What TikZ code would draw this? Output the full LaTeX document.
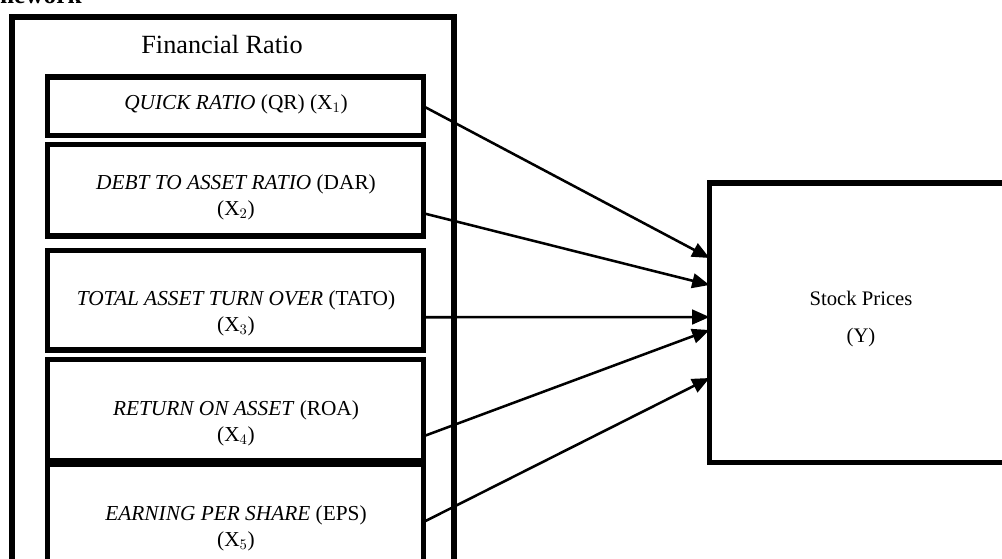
\documentclass[tikz,border=0pt]{standalone}
\usepackage{fontspec}
\setmainfont{Liberation Serif}
\usetikzlibrary{arrows.meta,calc,fit}
\begin{document}
\begin{tikzpicture}[x=0.75pt,y=-0.75pt,
  outerbox/.style={draw,line width=4.6pt,inner sep=0pt,outer sep=0pt,rectangle},
  varbox/.style={draw,line width=3.8pt,inner sep=0pt,outer sep=0pt,rectangle},
  txt/.style={align=center,inner sep=0pt,font=\fontsize{16}{19.5}\selectfont},
  arr/.style={line width=1.9pt,-{Triangle[length=13pt,width=11pt]}}]
\useasboundingbox (0,0) rectangle (1002,558);
% clipped heading
\node[anchor=base east,inner sep=0pt,font=\fontsize{19}{22}\selectfont\bfseries] (head) at (82,3) {Framework};
% outer frame
\node[outerbox,fit={(12,17)(454,640)}] (frame) {};
\node[inner sep=0pt,font=\fontsize{19.7}{23}\selectfont] (title) at (222,45) {Financial Ratio};
% variable boxes
\node[varbox,fit={(47.5,77)(423.5,135.5)}] (qr) {};
\node[varbox,fit={(47.5,144.5)(423.5,236)}] (dar) {};
\node[varbox,fit={(47.5,250.5)(423.5,350)}] (tato) {};
\node[varbox,fit={(47.5,359.5)(423.5,461)}] (roa) {};
\node[varbox,fit={(47.5,464)(423.5,640)}] (eps) {};
\node[txt] (qrt) at (236,104) {\textit{QUICK RATIO} (QR) (X$_1$)};
\node[txt] (dart) at (236,197) {\textit{DEBT TO ASSET RATIO} (DAR)\\(X$_2$)};
\node[txt] (tatot) at (236,313) {\textit{TOTAL ASSET TURN OVER} (TATO)\\(X$_3$)};
\node[txt] (roat) at (236,423) {\textit{RETURN ON ASSET} (ROA)\\(X$_4$)};
\node[txt] (epst) at (236,528) {\textit{EARNING PER SHARE} (EPS)\\(X$_5$)};
% dependent variable
\node[varbox,fit={(709.5,183)(1014.5,462.5)}] (y) {};
\node[inner sep=0pt,font=\fontsize{15.5}{19}\selectfont] (yt1) at (861,298) {Stock Prices};
\node[inner sep=0pt,font=\fontsize{15.5}{19}\selectfont] (yt2) at (861,338) {(Y)};
% arrows
\draw[arr] (qr.east) -- ($(y.west)+(0,-64.75)$);
\draw[arr] ($(dar.east)+(0,23)$) -- ($(y.west)+(0,-37.75)$);
\draw[arr] ($(tato.east)+(0,17)$) -- ($(y.west)+(0,-5.75)$);
\draw[arr] ($(roa.east)+(0,26)$) -- ($(y.west)+(0,7.25)$);
\draw[arr] ($(eps.north east)+(0,58)$) -- ($(y.west)+(0,55.25)$);
\end{tikzpicture}
\end{document}
